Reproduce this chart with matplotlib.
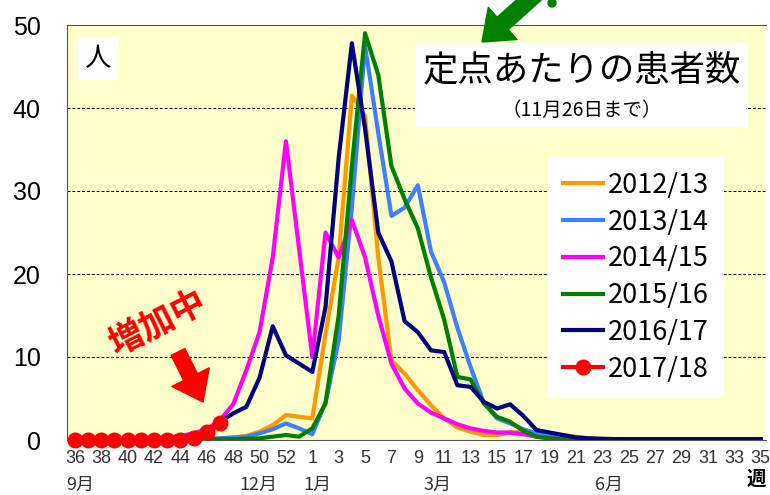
import numpy as np
import matplotlib
matplotlib.use("Agg")
from matplotlib import pyplot as plt
from matplotlib.patches import Rectangle, Circle
from matplotlib.transforms import IdentityTransform
from matplotlib.font_manager import FontProperties

#-------------------------------------------------------------------------------
#data (week 36 .. week 53, then week 1 .. week 35)
weeks = list(range(36, 54)) + list(range(1, 36))
week_labels = [str(w) for w in weeks]

s1213 = [0.1, 0.1, 0.1, 0.1, 0.1, 0.1, 0.1, 0.1, 0.1, 0.1, 0.2, 0.2, 0.3, 0.5, 1.0, 1.8, 3.0, 2.8,
         2.6, 12.8, 22.0, 41.5, 39.0, 22.0, 9.6, 8.0, 6.0, 4.2, 2.6, 1.5, 1.0, 0.6, 0.6, 0.9, 1.0,
         0.8, 0.7, 0.6, 0.4, 0.2, 0.1, 0.05, 0.05, 0.05, 0.05, 0.05, 0.05, 0.05, 0.05, 0.05, 0.05, 0.05, 0.05]
s1314 = [0.1, 0.1, 0.1, 0.1, 0.1, 0.1, 0.1, 0.1, 0.1, 0.1, 0.1, 0.2, 0.3, 0.4, 0.8, 1.3, 2.0, 1.4,
         0.7, 4.5, 12.0, 28.0, 47.5, 37.0, 27.0, 28.0, 30.7, 22.7, 19.0, 13.5, 8.8, 4.5, 2.6, 2.0, 1.3,
         0.8, 0.5, 0.3, 0.2, 0.15, 0.1, 0.05, 0.05, 0.05, 0.05, 0.05, 0.05, 0.05, 0.05, 0.05, 0.05, 0.05, 0.05]
s1415 = [0.1, 0.1, 0.1, 0.1, 0.1, 0.1, 0.2, 0.3, 0.5, 0.8, 1.3, 2.4, 4.3, 8.4, 13.0, 22.0, 36.0, 23.0,
         10.0, 25.0, 22.0, 26.5, 22.0, 15.0, 9.2, 6.2, 4.4, 3.3, 2.6, 1.9, 1.4, 1.1, 0.9, 0.9, 0.7,
         0.4, 0.2, 0.1, 0.05, 0.05, 0.05, 0.05, 0.05, 0.05, 0.05, 0.05, 0.05, 0.05, 0.05, 0.05, 0.05, 0.05, 0.05]
s1516 = [0.05, 0.05, 0.05, 0.05, 0.05, 0.05, 0.05, 0.05, 0.05, 0.05, 0.1, 0.1, 0.1, 0.15, 0.2, 0.4, 0.6, 0.4,
         1.4, 4.4, 15.0, 33.0, 49.0, 44.0, 33.0, 29.0, 25.5, 19.6, 14.5, 7.6, 7.3, 4.4, 2.8, 2.2, 1.1,
         0.4, 0.2, 0.1, 0.05, 0.05, 0.05, 0.05, 0.05, 0.05, 0.05, 0.05, 0.05, 0.05, 0.05, 0.05, 0.05, 0.05, 0.05]
s1617 = [0.1, 0.1, 0.1, 0.1, 0.1, 0.1, 0.2, 0.2, 0.3, 0.5, 0.9, 2.2, 3.2, 4.0, 7.5, 13.7, 10.2, 9.2,
         8.2, 16.0, 34.0, 47.8, 37.5, 25.0, 21.5, 14.3, 13.0, 10.8, 10.6, 6.6, 6.4, 4.6, 3.8, 4.3, 2.9,
         1.2, 0.9, 0.6, 0.3, 0.2, 0.15, 0.1, 0.1, 0.1, 0.1, 0.1, 0.1, 0.1, 0.1, 0.1, 0.1, 0.1, 0.1]
s1718 = [0.05, 0.05, 0.05, 0.05, 0.05, 0.05, 0.05, 0.05, 0.05, 0.25, 1.0, 2.1]

seasons = ["2012/13", "2013/14", "2014/15", "2015/16", "2016/17"]
colors = ["#FF9900", "#3F7FFF", "#FF00FF", "#008000", "#000080"]

cjk = ["Noto Sans CJK JP", "DejaVu Sans"]
num = ["Liberation Sans", "Noto Sans CJK JP"]

#-------------------------------------------------------------------------------
fig = plt.figure(figsize=(7.7, 4.95), dpi=100)
ax = fig.add_axes([67/770, 55/495, 699/770, 415/495])
ax.set_facecolor("#FFFFCC")

x = np.arange(len(weeks))
for i, (name, vals) in enumerate(zip(seasons, [s1213, s1314, s1415, s1516, s1617])):
    ax.plot(x, vals, color=colors[i], lw=3, label=name, zorder=3 + i)
ax.plot(x[:len(s1718)], s1718, color="#FF0000", lw=3, marker="o", ms=10.5,
        label="2017/18", zorder=10, clip_on=False)

ax.set_xlim(-0.6, 52.4)
ax.set_ylim(0, 50)
ax.set_yticks([0, 10, 20, 30, 40, 50])
ax.set_xticks(x[::2], week_labels[::2])
ax.yaxis.grid(True, linestyle=(0, (3, 2)), color="black", lw=0.7, zorder=1)
ax.set_axisbelow(True)
ax.tick_params(axis="y", length=0, pad=19, labelsize=18)
ax.tick_params(axis="x", length=0, pad=7, labelsize=13, labelcolor="#333333")
for lab in ax.get_yticklabels() + ax.get_xticklabels():
    lab.set_family(num)
for side in ["left", "bottom", "top"]:
    ax.spines[side].set_color("#555555")
ax.spines["right"].set_visible(False)

#white boxes for the title and the unit
ax.add_patch(Rectangle((0.498, 0.754), 0.476, 0.203, transform=ax.transAxes,
                       facecolor="white", edgecolor="none", zorder=2))
ax.add_patch(Rectangle((0.016, 0.867), 0.057, 0.102, transform=ax.transAxes,
                       facecolor="white", edgecolor="none", zorder=2))
ax.text(0.044, 0.918, "人", transform=ax.transAxes, ha="center", va="center",
        fontsize=19, family=cjk, zorder=11)
ax.text(0.737, 0.890, "定点あたりの患者数", transform=ax.transAxes, ha="center", va="center",
        fontsize=25.5, family=cjk, zorder=11)
ax.text(0.737, 0.795, "（11月26日まで）", transform=ax.transAxes, ha="center", va="center",
        fontsize=14, family=cjk, zorder=11)

leg = ax.legend(loc="upper left", bbox_to_anchor=(0.688, 0.682), borderaxespad=0,
                frameon=True, fancybox=False, framealpha=1, edgecolor="none",
                prop=FontProperties(family="Noto Sans CJK JP", size=19.5),
                handlelength=1.5, handletextpad=0.15, labelspacing=0.36, borderpad=0.55)
leg.set_zorder(12)

#month labels under the week axis
xt = ax.get_xaxis_transform()
for pos, txt in [(0.4, "9月"), (13.9, "12月"), (18.4, "1月"), (27.5, "3月"), (40.5, "6月")]:
    ax.text(pos, -0.108, txt, transform=xt, ha="center", va="center",
            fontsize=13, color="#333333", family=cjk)
ax.text(51.7, -0.094, "週", transform=xt, ha="center", va="center",
        fontsize=14, color="black", family=cjk, fontweight="bold")

#"increasing" note with red arrow
ax.text(0.129, 0.282, "増加中", transform=ax.transAxes, ha="center", va="center",
        rotation=27, fontsize=25, fontweight="bold", color="#FF0000", family=cjk, zorder=11)
ax.annotate("", xy=(203, 93), xycoords="figure pixels", xytext=(178, 143),
            textcoords="figure pixels",
            arrowprops=dict(arrowstyle="simple,head_width=1.5,head_length=1.0,tail_width=0.55",
                            mutation_scale=20, color="#FF0000", shrinkA=0, shrinkB=0))

#green arrow pointing at the title
ax.annotate("", xy=(482, 453), xycoords="figure pixels", xytext=(540, 505),
            textcoords="figure pixels",
            arrowprops=dict(arrowstyle="simple,head_width=1.55,head_length=1.0,tail_width=0.6",
                            mutation_scale=20, color="#008000", shrinkA=0, shrinkB=0))
fig.add_artist(Circle((552, 492), 4, transform=IdentityTransform(), color="#008000"))

fig.savefig("out.png", dpi=100)
